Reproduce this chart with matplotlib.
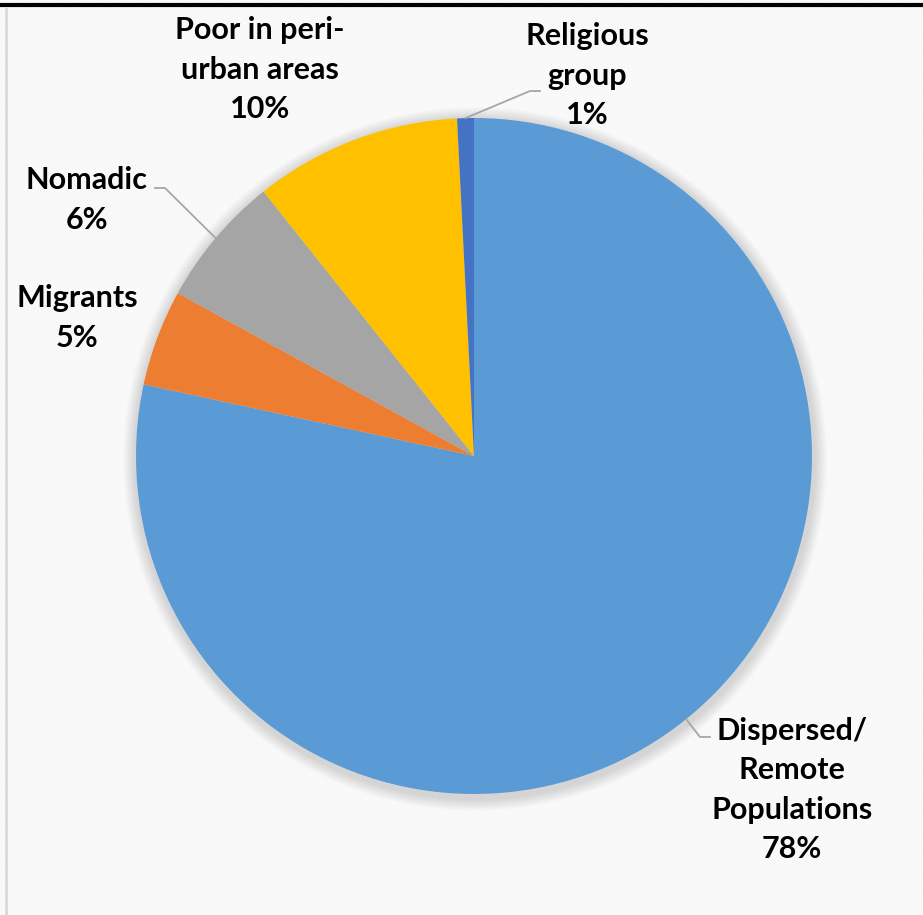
import numpy as np
import matplotlib.pyplot as plt
from matplotlib.patches import Rectangle, Circle

# slice data, clockwise from 12 o'clock
names = ['Dispersed/\nRemote\nPopulations', 'Migrants', 'Nomadic',
         'Poor in peri-\nurban areas', 'Religious\ngroup']
shares = [78.4, 4.6, 6.3, 9.9, 0.8]
colors = ['#5B9BD5', '#ED7D31', '#A5A5A5', '#FFC000', '#4472C4']

# label centres in pixel coords (x, y from top) and leader line bends
label_pos = [(792, 790), (77, 318), (87, 200), (260, 70), (587, 76)]
leader_end = [(700, 737), None, (165, 188), None, (530, 91)]
leader_tail = [(710, 737), None, (155, 188), None, (540, 91)]

W, H = 923, 915
cx, cy, R = 474, 456, 338

plt.rcParams['font.family'] = ['Lato', 'DejaVu Sans']
plt.rcParams['hatch.linewidth'] = 1.0

fig = plt.figure(figsize=(W / 100, H / 100), dpi=100)
ax = fig.add_axes([0, 0, 1, 1])

# background with faint diagonal stripes
ax.add_patch(Rectangle((0, 0), W, H, facecolor='white', edgecolor='none', zorder=0))
ax.add_patch(Rectangle((0, 0), W, H, facecolor='none', edgecolor='#f5f5f5',
                       hatch='\\' * 10, linewidth=0, zorder=0.5))
# frame lines
ax.plot([0, W], [H - 5, H - 5], color='black', lw=3, zorder=1, solid_capstyle='butt')
ax.plot([6, 6], [0, H - 7], color='#d9d9d9', lw=2, zorder=1, solid_capstyle='butt')

# soft shadow
for k in range(12):
    ax.add_patch(Circle((cx + 1, H - cy - 3), R + 14 - k, facecolor='#000000',
                        edgecolor='none', alpha=0.012, zorder=1))

wedges, _ = ax.pie(shares, colors=colors, startangle=90, counterclock=False,
                   center=(cx, H - cy), radius=R, frame=True,
                   wedgeprops=dict(linewidth=0))
for w in wedges:
    w.set_zorder(2)
ax.set_xlim(0, W)
ax.set_ylim(0, H)
ax.axis('off')

for i, (w, name, val) in enumerate(zip(wedges, names, shares)):
    lx, ly = label_pos[i]
    ax.text(lx, H - ly, f"{name}\n{val:.0f}%", ha='center', va='center',
            fontsize=22, fontweight='bold', linespacing=1.5, zorder=4)
    if leader_end[i] is not None:
        mid = np.deg2rad((w.theta1 + w.theta2) / 2)
        px = cx + R * np.cos(mid)
        py = (H - cy) + R * np.sin(mid)
        ex, ey = leader_end[i]
        tx, ty = leader_tail[i]
        ax.plot([px, ex, tx], [py, H - ey, H - ty], color='#a6a6a6', lw=1.3, zorder=3)

fig.savefig('out.png', dpi=100)
